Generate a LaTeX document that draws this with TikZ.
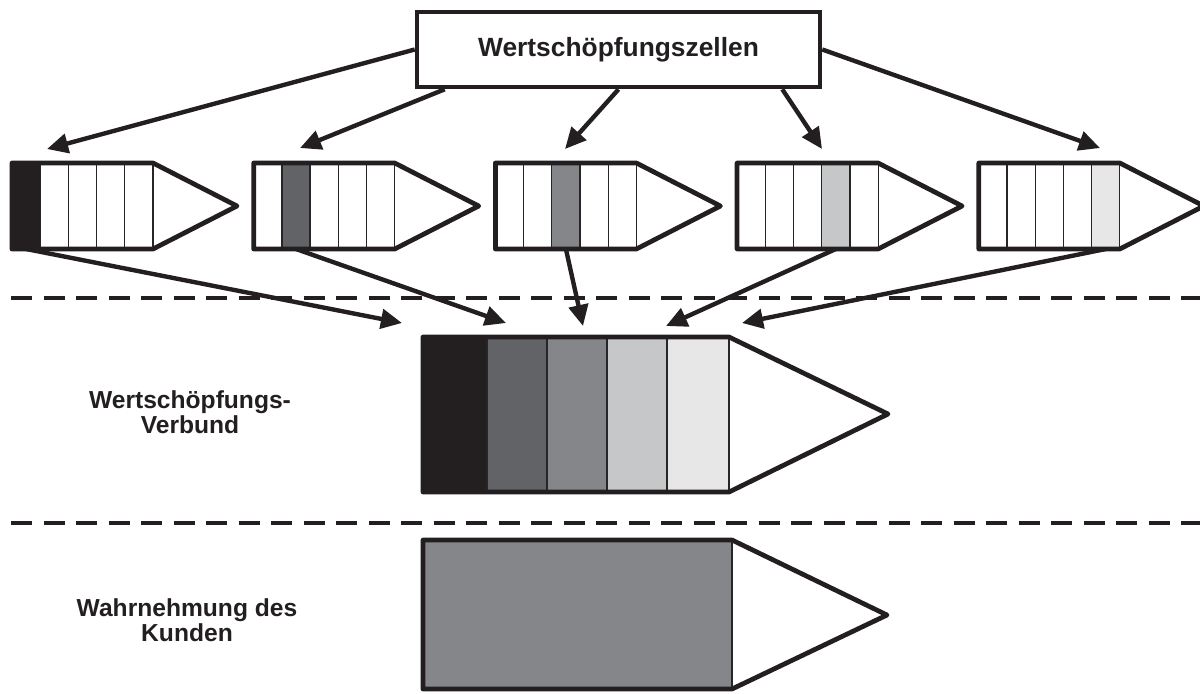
\documentclass[tikz,border=0pt]{standalone}
\usepackage{fontspec}
\setmainfont{Liberation Sans}
\usetikzlibrary{arrows.meta, positioning, calc}

\definecolor{cellA}{HTML}{231F20}
\definecolor{cellB}{HTML}{626366}
\definecolor{cellC}{HTML}{85868A}
\definecolor{cellD}{HTML}{C6C7C9}
\definecolor{cellE}{HTML}{E7E7E8}

\begin{document}
\begin{tikzpicture}[
    x=0.2mm, y=-0.2mm,
    title/.style={
        draw=cellA,
        rectangle,
        line width=2.6pt,
        minimum width=80.6mm,
        minimum height=15mm,
        fill=white,
        text=cellA,
        font=\bfseries\fontsize{15}{15}\selectfont
    },
    label/.style={
        align=center,
        text=cellA,
        font=\bfseries\fontsize{14}{14.5}\selectfont
    },
    cell/.style={
        draw=black!85,
        line width=0.7pt
    },
    outline/.style={
        draw=cellA,
        line width=2.7pt,
        line join=round
    },
    divider/.style={
        draw=cellA,
        dash pattern=on 4.2mm off 2.3mm,
        line width=1.9pt
    },
    arrow/.style={
        -{Triangle[length=12pt,width=11pt]},
        line width=2.5pt,
        draw=cellA
    }
]

\useasboundingbox (0,0) rectangle (1200,693);

% Nodes
\node[title] (zellen) at (618.5,49.5) {Wertschöpfungszellen};

\node[label] (verbund) at (190,412) {Wertschöpfungs-\\Verbund};
\node[label] (kunde) at (187,620) {Wahrnehmung des\\Kunden};

% Small value cells
\foreach \i/\col in {0/cellA,1/cellB,2/cellC,3/cellD,4/cellE} {
    \pgfmathsetmacro{\xo}{12+241.7*\i}
    \fill[white] (\xo,163) rectangle ++(141,86);
    \fill[\col] ({\xo+28.2*\i},163) rectangle ++(28.2,86);
    \foreach \k in {1,...,5}
        \draw[cell] ({\xo+28.2*\k},163) -- ++(0,86);
    \draw[outline] ({\xo+141},163) -- ({\xo+225},206) -- ({\xo+141},249)
        -- (\xo,249) -- (\xo,163) -- cycle;
    \coordinate (bot\i) at ({\xo+28.2*\i+14.1},249);
}

% Arrow targets
\coordinate (in0) at (47,149);
\coordinate (in1) at (300,148);
\coordinate (in2) at (565,149);
\coordinate (in3) at (822,149);
\coordinate (in4) at (1100,148);

\coordinate (join0) at (402,323);
\coordinate (join1) at (506,323);
\coordinate (join2) at (583,326);
\coordinate (join3) at (666,326);
\coordinate (join4) at (742,323);

% Separators
\draw[divider] (11,298) -- (1200,298);
\draw[divider] (11,523) -- (1200,523);

% Value network
\foreach \x/\w/\col in {423/64/cellA, 487/60/cellB, 547/60/cellC, 607/60/cellD, 667/62/cellE}
    \fill[\col] (\x,337) rectangle ++(\w,155);
\foreach \x in {487,547,607,667,729}
    \draw[cell] (\x,337) -- (\x,492);
\draw[outline] (729,337) -- (888,414) -- (729,492) -- (423,492) -- (423,337) -- cycle;

% Customer view
\fill[cellC] (423,540) rectangle (732,689);
\draw[cell] (732,540) -- (732,689);
\draw[outline] (732,540) -- (887,615) -- (732,689) -- (423,689) -- (423,540) -- cycle;

% Connections
\draw[arrow] (zellen.west) -- (in0);
\draw[arrow] ($(zellen.south west)+(30,0)$) -- (in1);
\draw[arrow] (zellen.south) -- (in2);
\draw[arrow] ($(zellen.south east)+(-40,0)$) -- (in3);
\draw[arrow] (zellen.east) -- (in4);

\foreach \i in {0,...,4}
    \draw[arrow] (bot\i) -- (join\i);

\end{tikzpicture}
\end{document}
